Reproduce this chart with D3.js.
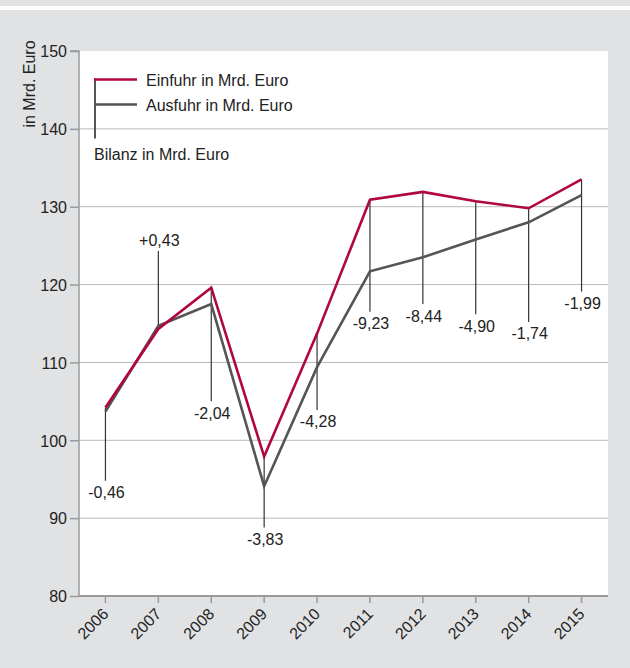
<!DOCTYPE html>
<html><head><meta charset="utf-8">
<script src="https://cdn.jsdelivr.net/npm/d3@7"></script>
<style>
body{margin:0;background:#e1e2e4;}
svg{display:block;}
text{font-family:"Liberation Sans Narrow","Arial Narrow","Liberation Sans",sans-serif;fill:#222;}
</style>
</head><body>
<svg id="c" width="630" height="668"></svg>
<script>
const years = ["2006","2007","2008","2009","2010","2011","2012","2013","2014","2015"];
const einfuhr = [104.2,114.3,119.6,97.9,113.7,130.9,131.9,130.7,129.8,133.5];
const ausfuhr = [103.7,114.7,117.5,94.1,109.4,121.7,123.5,125.8,128.0,131.5];
const bilanzLabels = ["-0,46","+0,43","-2,04","-3,83","-4,28","-9,23","-8,44","-4,90","-1,74","-1,99"];
const labelAt = [94.8,124.3,105.0,88.8,103.9,116.5,117.5,116.2,115.2,119.1];
const yTicks = [80,90,100,110,120,130,140,150];
const legendLabels = ["Einfuhr in Mrd. Euro","Ausfuhr in Mrd. Euro","Bilanz in Mrd. Euro"];
const yTitle = "in Mrd. Euro";

const svg = d3.select("#c");
const L = 79, R = 608, T = 51, B = 596;
const RED = "#b0083c", GREY = "#555555", AXIS = "#9a9a9a";

// top white stripe
svg.append("rect").attr("x",0).attr("y",6).attr("width",630).attr("height",4).attr("fill","#fff");
// plot area
svg.append("rect").attr("x",L).attr("y",T).attr("width",R-L).attr("height",B-T).attr("fill","#fff");

const x = d3.scaleBand().domain(years).range([L,R]).padding(0);
const cx = d => x(d) + x.bandwidth()/2;
const y = d3.scaleLinear().domain([80,150]).range([B,T]);

// gridlines
svg.append("g").selectAll("line").data(yTicks.filter(v=>v>80&&v<150)).join("line")
  .attr("x1",L).attr("x2",R).attr("y1",d=>y(d)).attr("y2",d=>y(d))
  .attr("stroke","#b8b8b8").attr("stroke-width",1);

// y axis
const yAxis = svg.append("g").attr("transform",`translate(${L},0)`)
  .call(d3.axisLeft(y).tickValues(yTicks).tickSize(9).tickPadding(3).tickFormat(d3.format("d")));
yAxis.select(".domain").attr("stroke",AXIS).attr("stroke-width",1.5).attr("d",`M-9,${T}H0V${B}`);
yAxis.selectAll(".tick line").attr("stroke",AXIS).attr("stroke-width",1.5);
yAxis.selectAll(".tick text").attr("font-size",16).attr("dy","0.36em").attr("fill","#222")
  .style("font-family",'"Liberation Sans Narrow","Arial Narrow",sans-serif');

// x axis
const xAxis = svg.append("g").attr("transform",`translate(0,${B})`)
  .call(d3.axisBottom(x).tickSize(7).tickSizeOuter(0));
xAxis.select(".domain").attr("stroke",AXIS).attr("stroke-width",2).attr("d",`M${L},0H${R}`);
xAxis.selectAll(".tick line").attr("stroke",AXIS).attr("stroke-width",1.5);
xAxis.selectAll(".tick text").attr("font-size",16).attr("text-anchor","end")
  .attr("x",0).attr("y",0).attr("dy",0)
  .attr("transform","translate(4,19) rotate(-45)")
  .style("font-family",'"Liberation Sans Narrow","Arial Narrow",sans-serif');

// y title
svg.append("text").attr("transform",`translate(35,84) rotate(-90)`)
  .attr("text-anchor","middle").attr("font-size",16).text(yTitle);

// bilanz annotation lines
const ann = svg.append("g");
years.forEach((yr,i)=>{
  const top = Math.max(einfuhr[i],ausfuhr[i]);
  const up = labelAt[i] > top;
  ann.append("line").attr("x1",cx(yr)).attr("x2",cx(yr))
    .attr("y1",y(top)).attr("y2",y(labelAt[i]))
    .attr("stroke","#333").attr("stroke-width",1.2);
  ann.append("text").attr("x",cx(yr)+1).attr("y",up? y(labelAt[i])-5 : y(labelAt[i])+17.5)
    .attr("text-anchor","middle").attr("font-size",16).text(bilanzLabels[i]);
});

// series lines
const line = d3.line().x((d,i)=>cx(years[i])).y(d=>y(d));
svg.append("path").datum(ausfuhr).attr("d",line).attr("fill","none")
  .attr("stroke",GREY).attr("stroke-width",2.6).attr("stroke-linejoin","miter");
svg.append("path").datum(einfuhr).attr("d",line).attr("fill","none")
  .attr("stroke",RED).attr("stroke-width",2.6).attr("stroke-linejoin","miter");

// legend
const lg = svg.append("g");
lg.append("line").attr("x1",95).attr("x2",95).attr("y1",78.5).attr("y2",138.5).attr("stroke",GREY).attr("stroke-width",2);
lg.append("line").attr("x1",94).attr("x2",137).attr("y1",79.5).attr("y2",79.5).attr("stroke",RED).attr("stroke-width",2.6);
lg.append("line").attr("x1",94).attr("x2",137).attr("y1",104.5).attr("y2",104.5).attr("stroke",GREY).attr("stroke-width",2.6);
lg.append("text").attr("x",146).attr("y",86).attr("font-size",16).text(legendLabels[0]);
lg.append("text").attr("x",146).attr("y",111).attr("font-size",16).text(legendLabels[1]);
lg.append("text").attr("x",94).attr("y",160).attr("font-size",16).text(legendLabels[2]);
</script>
</body></html>
